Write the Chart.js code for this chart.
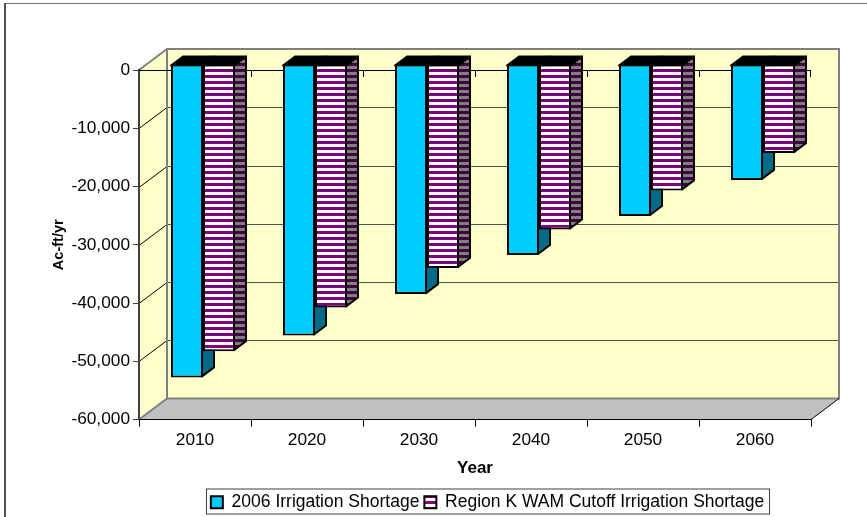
<!DOCTYPE html>
<html>
<head>
<meta charset="utf-8">
<title>Irrigation Shortage</title>
<script src="https://cdn.jsdelivr.net/npm/chart.js@4/dist/chart.umd.min.js"></script>
<style>
    html, body { margin: 0; padding: 0; background: #fff; }
    canvas { display: block; }
</style>
</head>
<body>
<canvas id="chart" width="867" height="517"></canvas>
<script>
const years = ['2010', '2020', '2030', '2040', '2050', '2060'];
const shortage2006 = [-53800, -46600, -39500, -32800, -26100, -19900];
const shortageRegionK = [-49300, -41800, -35000, -28400, -21700, -15300];

const fontName = '"Liberation Sans", Arial, sans-serif';

// profundidade do grafico 3D
const wallDx = 28, wallDy = -21;
const barShiftX = 8, barShiftY = -6;
const sideDx = 12, sideDy = -9;

function stripes(colorA, colorB) {
    const c = document.createElement('canvas');
    c.width = 1;
    c.height = 6;
    const g = c.getContext('2d');
    g.fillStyle = colorA;
    g.fillRect(0, 0, 1, 6);
    g.fillStyle = colorB;
    g.fillRect(0, 0, 1, 3);
    return g.createPattern(c, 'repeat');
}

const purpleFront = stripes('#800080', '#ffffff');
const purpleSide = stripes('#400040', '#808080');

function poly(ctx, pts, fill, stroke, lw) {
    ctx.beginPath();
    pts.forEach((p, i) => i ? ctx.lineTo(p[0], p[1]) : ctx.moveTo(p[0], p[1]));
    ctx.closePath();
    if (fill) {
        ctx.fillStyle = fill;
        ctx.fill();
    }
    if (stroke) {
        ctx.strokeStyle = stroke;
        ctx.lineWidth = lw;
        ctx.stroke();
    }
}

function seg(ctx, x1, y1, x2, y2, color, lw) {
    ctx.beginPath();
    ctx.moveTo(x1, y1);
    ctx.lineTo(x2, y2);
    ctx.strokeStyle = color;
    ctx.lineWidth = lw;
    ctx.stroke();
}

const plot3d = {
    id: 'plot3d',
    afterLayout(chart) {
        // legenda nao fica centrada no canvas
        chart.legend.left += 57;
        chart.legend.right += 57;
        chart.legend.top -= 1;
        chart.legend.bottom -= 1;
    },
    beforeDraw(chart) {
        const ctx = chart.ctx;
        const a = chart.chartArea;
        const y = chart.scales.y;

        // moldura
        seg(ctx, 5, 3.5, 867, 3.5, '#707070', 1);
        seg(ctx, 5, 3, 5, 517, '#505050', 2);

        // paredes e chao
        poly(ctx, [[a.left, a.top], [a.left + wallDx, a.top + wallDy], [a.right + wallDx, a.top + wallDy],
            [a.right + wallDx, a.bottom + wallDy], [a.left + wallDx, a.bottom + wallDy], [a.left, a.bottom]], '#ffffcc');
        poly(ctx, [[a.left, a.bottom], [a.left + wallDx, a.bottom + wallDy], [a.right + wallDx, a.bottom + wallDy],
            [a.right, a.bottom]], '#c0c0c0');

        y.ticks.forEach(t => {
            if (t.value === 0 || t.value === y.min) return;
            const py = Math.round(y.getPixelForValue(t.value)) + 0.5;
            seg(ctx, a.left, py, a.left + wallDx, py + wallDy, '#000', 1);
            seg(ctx, a.left + wallDx, py + wallDy, a.right + wallDx, py + wallDy, '#505050', 1);
        });

        ctx.beginPath();
        ctx.moveTo(a.left, a.top);
        ctx.lineTo(a.left + wallDx, a.top + wallDy);
        ctx.lineTo(a.right + wallDx, a.top + wallDy);
        ctx.lineTo(a.right + wallDx, a.bottom + wallDy);
        ctx.lineTo(a.left + wallDx, a.bottom + wallDy);
        ctx.lineTo(a.left + wallDx, a.top + wallDy);
        ctx.strokeStyle = '#808080';
        ctx.lineWidth = 2;
        ctx.stroke();
        seg(ctx, a.left + wallDx, a.bottom + wallDy, a.left, a.bottom, '#808080', 2);
        seg(ctx, a.right + wallDx, a.bottom + wallDy, a.right, a.bottom, '#000', 1);

        // caixa da legenda
        const hit = chart.legend.legendHitBoxes;
        const last = hit[hit.length - 1];
        const lx = hit[0].left - 5;
        const lw = last.left + last.width + 5 - lx;
        ctx.strokeStyle = '#404040';
        ctx.lineWidth = 1;
        ctx.strokeRect(Math.round(lx) + 0.5, a.bottom + 69.5, Math.round(lw), 25);
    },
    beforeDatasetsDraw(chart) {
        const ctx = chart.ctx;
        const a = chart.chartArea;
        const x = chart.scales.x;

        // linha do zero, atras das barras
        seg(ctx, a.left, a.top + 0.5, a.right, a.top + 0.5, '#000', 1);
        x.ticks.forEach((t, i) => {
            const px = Math.round(x.getPixelForTick(i) - x.width / x.ticks.length / 2) + 0.5;
            if (i > 0) seg(ctx, px, a.top, px, a.top + 7, '#000', 1);
        });
        seg(ctx, a.right - 0.5, a.top, a.right - 0.5, a.top + 7, '#000', 1);

        ctx.save();
        ctx.translate(barShiftX, barShiftY);
        ctx.lineJoin = 'round';
        const sideColors = ['#006c87', purpleSide];
        chart.data.datasets.forEach((ds, d) => {
            chart.getDatasetMeta(d).data.forEach(bar => {
                const left = bar.x - bar.width / 2;
                const right = bar.x + bar.width / 2 - 1;
                const top = bar.base + 1;
                const bottom = bar.y - 1;
                poly(ctx, [[right, top], [right + sideDx, top + sideDy], [right + sideDx, bottom + sideDy], [right, bottom]],
                    sideColors[d], '#000', 2);
                poly(ctx, [[left, top], [left + sideDx, top + sideDy], [right + sideDx, top + sideDy], [right, top]],
                    '#000', '#000', 2);
            });
        });
    },
    afterDatasetsDraw(chart) {
        chart.ctx.restore();
    }
};

const ctx = document.getElementById('chart').getContext('2d');
new Chart(ctx, {
    type: 'bar',
    data: {
        labels: years,
        datasets: [{
            label: '2006 Irrigation Shortage',
            data: shortage2006,
            backgroundColor: '#00ccff',
            borderColor: '#000',
            borderWidth: 2,
            borderSkipped: false,
            clip: false
        }, {
            label: 'Region K WAM Cutoff Irrigation Shortage',
            data: shortageRegionK,
            backgroundColor: purpleFront,
            borderColor: '#000',
            borderWidth: 2,
            borderSkipped: false,
            clip: false
        }]
    },
    options: {
        responsive: false,
        animation: false,
        layout: { padding: { left: 50, top: 70, right: 56, bottom: -5 } },
        datasets: { bar: { categoryPercentage: 0.571, barPercentage: 1 } },
        scales: {
            x: {
                afterFit: s => { s.height = 70; },
                border: { color: '#000', width: 1 },
                grid: { drawOnChartArea: false, tickLength: 7, color: '#000' },
                ticks: { color: '#000', padding: 3, maxRotation: 0, font: { family: fontName, size: 17.3 } },
                title: { display: true, text: 'Year', color: '#000', padding: { top: 0, bottom: 11 }, font: { family: fontName, size: 17, weight: 'bold' } }
            },
            y: {
                min: -60000,
                max: 0,
                afterFit: s => { s.width = 89; },
                border: { color: '#404040', width: 2 },
                grid: { drawOnChartArea: false, tickLength: 6, color: '#404040' },
                ticks: {
                    stepSize: 10000,
                    color: '#000',
                    padding: 3,
                    font: { family: fontName, size: 17.3 },
                    callback: v => v.toLocaleString('en-US')
                },
                title: { display: true, text: 'Ac-ft/yr', color: '#000', padding: 0, font: { family: fontName, size: 14.5, weight: 'bold' } }
            }
        },
        plugins: {
            tooltip: { enabled: false },
            legend: {
                position: 'bottom',
                labels: { color: '#000', boxWidth: 12, boxHeight: 12, padding: 5, font: { family: fontName, size: 17.5 } }
            }
        }
    },
    plugins: [plot3d]
});
</script>
</body>
</html>
